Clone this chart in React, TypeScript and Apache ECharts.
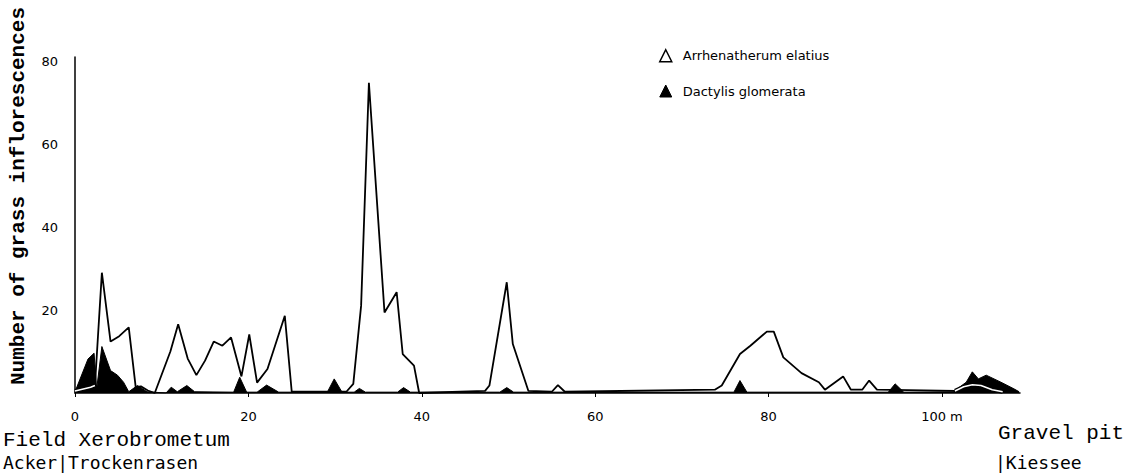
import React, { useEffect, useRef } from "react";
import * as echarts from "echarts";

// Distance along transect (m) and number of inflorescences
const arrhenatherum: [number, number][] = [
  [0, 0.5], [1.8, 1.4], [2.3, 1.8], [3.1, 29], [4.1, 12.4], [5.1, 13.7], [6.2, 15.8],
  [7.0, 1.4], [7.6, 1.6], [8.4, 0.6], [9.2, 0], [11.0, 10], [11.9, 16.6], [13.0, 8.3],
  [14.0, 4.3], [15.0, 7.8], [16.0, 12.4], [17.0, 11.4], [18.0, 13.4], [19.2, 4],
  [20.1, 14.1], [21.0, 2.5], [22.2, 5.8], [24.2, 18.6], [25.0, 0.3], [31.3, 0.3],
  [32.1, 2.2], [33.0, 21], [33.9, 74.8], [35.7, 19.4], [37.1, 24.3], [37.8, 9.4],
  [39.1, 6.6], [39.7, 0], [47.3, 0.5], [47.8, 1.8], [49.8, 26.7], [50.5, 11.8],
  [52.3, 0.5], [55.0, 0.3], [55.7, 1.9], [56.5, 0.3], [73.8, 0.8], [74.6, 1.8],
  [76.7, 9.4], [77.9, 11.4], [79.8, 14.8], [80.6, 14.8], [81.7, 8.6], [83.8, 4.8],
  [85.8, 2.6], [86.5, 0.8], [88.6, 4], [89.5, 0.8], [90.8, 0.8], [91.6, 3],
  [92.5, 0.8], [101.5, 0.5], [102.5, 1.5], [103.5, 2], [104.5, 1.8], [105.8, 0.8],
  [107, 0.3],
];

const dactylis: [number, number][] = [
  [0, 0.3], [1.5, 8.2], [2.2, 9.6], [2.5, 1], [3.1, 11.2], [4.1, 5.4], [4.9, 4.3],
  [5.6, 2.6], [6.2, 0.3], [7.2, 1.8], [8.3, 0.3], [10.5, 0], [11.1, 1.4], [11.8, 0.3],
  [12.9, 1.8], [13.8, 0.3], [18.3, 0.2], [19.0, 3.8], [19.8, 0.2], [21.0, 0.2],
  [22.1, 1.9], [23.5, 0.2], [29.1, 0.2], [29.9, 3.4], [30.8, 0.2], [32.2, 0.2],
  [32.8, 1.1], [33.5, 0.2], [37.2, 0.2], [37.9, 1.3], [38.7, 0.2], [49.0, 0.2],
  [49.8, 1.3], [50.6, 0.2], [76.0, 0.2], [76.7, 3], [77.5, 0.2], [93.8, 0.2],
  [94.6, 2.2], [95.6, 0.2], [101.3, 0.3], [102.8, 2.6], [103.5, 5.1], [104.2, 3.4],
  [105.1, 4.3], [106.8, 2.6], [108.3, 1], [108.9, 0.3],
];

const xTicks = [0, 20, 40, 60, 80, 100];
const yTicks = [20, 40, 60, 80];

const seriesNames = ["Arrhenatherum elatius", "Dactylis glomerata"];
const yAxisTitle = "Number of grass inflorescences";
const leftLabels = ["Field Xerobrometum", "Acker|Trockenrasen"];
const rightLabels = ["Gravel pit", "|Kiessee"];

// Stretches where the Arrhenatherum line runs inside the black Dactylis area (m)
const overlapRanges: [number, number][] = [[0, 2.3], [101.5, 107]];

export default function App() {
  const ref = useRef<HTMLDivElement>(null);
  useEffect(() => {
    document.body.style.margin = "0";
    if (!ref.current) return;
    const chart = echarts.init(ref.current, undefined, { renderer: "svg" });
    const sans = "DejaVu Sans";
    const overlapSeries = overlapRanges.flatMap(([a, b], i) => {
      const pts = arrhenatherum.filter(([x]) => x >= a && x <= b);
      return [
        {
          name: "overlap-outline-" + i,
          type: "line",
          data: pts,
          showSymbol: false,
          symbol: "none",
          silent: true,
          lineStyle: { color: "#000", width: 4 },
          z: 4,
        },
        {
          name: "overlap-white-" + i,
          type: "line",
          data: pts,
          showSymbol: false,
          symbol: "none",
          silent: true,
          lineStyle: { color: "#fff", width: 1.6 },
          z: 5,
        },
      ];
    });
    chart.setOption({
      animation: false,
      backgroundColor: "#fff",
      grid: { left: 75, top: 57, width: 945, height: 336, containLabel: false },
      legend: {
        orient: "vertical",
        left: 654,
        top: 44,
        itemWidth: 12,
        itemHeight: 12,
        itemGap: 22,
        textStyle: { fontFamily: sans, fontSize: 13, color: "#000", padding: [0, 0, 0, 6] },
        data: [
          { name: seriesNames[0], icon: "triangle", itemStyle: { color: "#fff", borderColor: "#000", borderWidth: 1.5 } },
          { name: seriesNames[1], icon: "triangle", itemStyle: { color: "#000", borderColor: "#000", borderWidth: 1 } },
        ],
      },
      xAxis: {
        type: "value",
        min: 0,
        max: 109,
        interval: 20,
        splitLine: { show: false },
        axisLine: { show: true, lineStyle: { color: "#000", width: 1.5 } },
        axisTick: { show: true, length: 4, customValues: xTicks, lineStyle: { color: "#000" } },
        axisLabel: {
          customValues: xTicks,
          margin: 17,
          color: "#000",
          fontFamily: sans,
          fontSize: 13,
          formatter: (v: number) => (v === 100 ? "100 m" : String(v)),
        },
      },
      yAxis: {
        type: "value",
        min: 0,
        max: 81,
        interval: 20,
        splitLine: { show: false },
        axisLine: { show: true, lineStyle: { color: "#000", width: 1.5 } },
        axisTick: { show: false },
        axisLabel: {
          customValues: yTicks,
          margin: 17,
          color: "#000",
          fontFamily: sans,
          fontSize: 13,
        },
      },
      series: [
        {
          name: seriesNames[1],
          type: "line",
          data: dactylis,
          showSymbol: false,
          symbol: "none",
          lineStyle: { color: "#000", width: 1 },
          itemStyle: { color: "#000" },
          areaStyle: { color: "#000", opacity: 1 },
          z: 2,
        },
        {
          name: seriesNames[0],
          type: "line",
          data: arrhenatherum,
          showSymbol: false,
          symbol: "none",
          lineStyle: { color: "#000", width: 1.8 },
          itemStyle: { color: "#fff", borderColor: "#000" },
          z: 3,
        },
        ...overlapSeries,
      ],
      graphic: [
        {
          type: "text",
          x: 18,
          y: 196,
          rotation: Math.PI / 2,
          style: {
            text: yAxisTitle,
            fontFamily: "Liberation Mono",
            fontSize: 21,
            fontWeight: "bold",
            fill: "#000",
            textAlign: "center",
            textVerticalAlign: "middle",
          },
        },
        {
          type: "text",
          x: 3,
          y: 440,
          style: { text: leftLabels[0], fontFamily: "Liberation Mono", fontSize: 21, fill: "#000", textVerticalAlign: "middle" },
        },
        {
          type: "text",
          x: 3,
          y: 462,
          style: { text: leftLabels[1], fontFamily: "DejaVu Sans Mono", fontSize: 18, fill: "#000", textVerticalAlign: "middle" },
        },
        {
          type: "text",
          x: 998,
          y: 433,
          style: { text: rightLabels[0], fontFamily: "Liberation Mono", fontSize: 21, fill: "#000", textVerticalAlign: "middle" },
        },
        {
          type: "text",
          x: 995,
          y: 462,
          style: { text: rightLabels[1], fontFamily: "DejaVu Sans Mono", fontSize: 18, fill: "#000", textVerticalAlign: "middle" },
        },
      ],
    });
    return () => chart.dispose();
  }, []);
  return <div ref={ref} style={{ width: 1140, height: 473 }} />;
}
